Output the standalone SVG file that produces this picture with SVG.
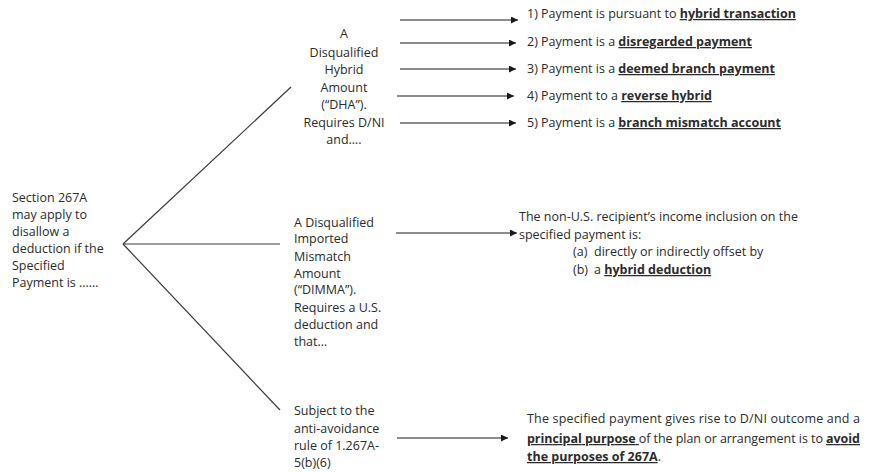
<svg xmlns="http://www.w3.org/2000/svg" width="871" height="472" viewBox="0 0 871 472">
<style>
text{font-family:"Open Sans","Liberation Sans",Arial,sans-serif;font-size:12.5px;fill:#2b2b2b}
.c{text-anchor:middle}
.u{font-weight:bold;text-decoration:underline}
.ln{stroke:#3a3a3a;stroke-width:1.2;fill:none}
.ar{stroke:#1a1a1a;stroke-width:1.2;fill:none;marker-end:url(#ah)}
</style>
<defs>
<marker id="ah" viewBox="0 0 10 10" refX="10" refY="5" markerWidth="7" markerHeight="7" markerUnits="userSpaceOnUse" orient="auto">
<path d="M0,0 L10,5 L0,10 z" fill="#1a1a1a"/>
</marker>
</defs>
<rect width="871" height="472" fill="#fff"/>
<g id="connectors">
<line class="ln" x1="123" y1="244" x2="291" y2="87"/>
<line class="ln" x1="123" y1="244" x2="280" y2="244"/>
<line class="ln" x1="123" y1="244" x2="280" y2="410"/>
<line class="ar" x1="400" y1="20" x2="518" y2="20"/>
<line class="ar" x1="400" y1="43" x2="516" y2="43"/>
<line class="ar" x1="400" y1="69" x2="516" y2="69"/>
<line class="ar" x1="397" y1="96" x2="514" y2="96"/>
<line class="ar" x1="400" y1="123" x2="516" y2="123"/>
<line class="ar" x1="396" y1="233" x2="517" y2="233"/>
<line class="ar" x1="397" y1="438" x2="508" y2="438"/>
</g>
<g id="root">
<text x="12" y="202">Section 267A</text>
<text x="12" y="219">may apply to</text>
<text x="12" y="236">disallow a</text>
<text x="12" y="253">deduction if the</text>
<text x="12" y="270">Specified</text>
<text x="12" y="287">Payment is ……</text>
</g>
<g id="dha">
<text class="c" x="344" y="38">A</text>
<text class="c" x="344" y="57">Disqualified</text>
<text class="c" x="344" y="74">Hybrid</text>
<text class="c" x="344" y="92">Amount</text>
<text class="c" x="344" y="109">(“DHA”).</text>
<text class="c" x="344" y="127">Requires D/NI</text>
<text class="c" x="344" y="144">and….</text>
</g>
<g id="dha-1"><text x="527" y="18">1) Payment is pursuant to <tspan class="u">hybrid transaction</tspan></text></g>
<g id="dha-2"><text x="527" y="46">2) Payment is a <tspan class="u">disregarded payment</tspan></text></g>
<g id="dha-3"><text x="527" y="73">3) Payment is a <tspan class="u">deemed branch payment</tspan></text></g>
<g id="dha-4"><text x="527" y="100">4) Payment to a <tspan class="u">reverse hybrid</tspan></text></g>
<g id="dha-5"><text x="527" y="127">5) Payment is a <tspan class="u">branch mismatch account</tspan></text></g>
<g id="dimma">
<text x="294" y="227">A Disqualified</text>
<text x="294" y="243">Imported</text>
<text x="294" y="261">Mismatch</text>
<text x="294" y="278">Amount</text>
<text x="294" y="294">(“DIMMA”).</text>
<text x="294" y="312">Requires a U.S.</text>
<text x="294" y="329">deduction and</text>
<text x="294" y="346">that…</text>
</g>
<g id="dimma-result">
<text x="519" y="221">The non-U.S. recipient’s income inclusion on the</text>
<text x="519" y="239">specified payment is:</text>
<text x="573" y="256">(a)<tspan x="594">directly or indirectly offset by</tspan></text>
<text x="573" y="274">(b)<tspan x="594">a </tspan><tspan class="u">hybrid deduction</tspan></text>
</g>
<g id="anti">
<text x="294" y="415">Subject to the</text>
<text x="294" y="433">anti-avoidance</text>
<text x="294" y="450">rule of 1.267A-</text>
<text x="294" y="467">5(b)(6)</text>
</g>
<g id="anti-result">
<text x="527" y="423" textLength="333" lengthAdjust="spacing">The specified payment gives rise to D/NI outcome and a</text>
<text x="527" y="443" textLength="333" lengthAdjust="spacing"><tspan class="u">principal purpose </tspan>of the plan or arrangement is to <tspan class="u">avoid</tspan></text>
<text x="527" y="461"><tspan class="u">the purposes of 267A</tspan>.</text>
</g>
</svg>
